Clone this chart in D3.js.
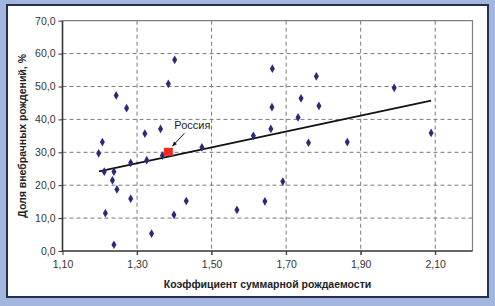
<!DOCTYPE html>
<html><head><meta charset="utf-8">
<script src="https://cdn.jsdelivr.net/npm/d3@7"></script>
<style>
html,body{margin:0;padding:0;background:#a2b6df;}
svg{display:block;font-family:"Liberation Sans",Arial,sans-serif;}
</style></head>
<body><svg id="c" width="495" height="306"></svg>
<script>
// Data: total fertility rate (x) vs share of extramarital births, % (y)
const tfr = [1.197,1.207,1.212,1.215,1.234,1.238,1.238,1.244,1.246,1.272,1.283,1.283,1.321,1.326,1.339,1.363,1.368,1.384,1.399,1.401,1.432,1.474,1.568,1.612,1.643,1.659,1.662,1.663,1.691,1.732,1.740,1.760,1.781,1.788,1.864,1.990,2.089];
const extramarital = [29.7,33.1,24.1,11.5,21.5,24.1,1.9,47.3,18.7,43.4,26.8,15.9,35.7,27.6,5.3,37.1,29.0,50.8,11.0,58.1,15.2,31.5,12.5,35.0,15.1,37.1,43.7,55.4,21.1,40.6,46.4,32.9,53.1,44.1,33.1,49.6,35.9];
const russia = {name:"Россия", x:1.384, y:30.0};
const trendX = [1.198, 2.089];
const trendY = [24.2, 45.7];
const xTicks = [1.10,1.30,1.50,1.70,1.90,2.10];
const yTicks = [0,10,20,30,40,50,60,70];
const xTitle = "Коэффициент суммарной рождаемости";
const yTitle = "Доля внебрачных рождений, %";

const svg = d3.select("#c");
// panel
svg.append("rect").attr("x",7).attr("y",5).attr("width",481).attr("height",292)
  .attr("fill","#ffffff").attr("stroke","#26304d").attr("stroke-width",2);

const L=62.5,R=472.5,T=20.7,B=251;
const x = d3.scaleLinear().domain([1.1,2.2]).range([L,R]);
const y = d3.scaleLinear().domain([0,70]).range([B,T]);
const fmt = d => d3.format(".2f")(d).replace(".",",");
const fmtY = d => d3.format(".1f")(d).replace(".",",");

const g = svg.append("g");
// grid
g.selectAll("line.vg").data(xTicks.slice(1)).join("line")
  .attr("x1",d=>x(d)).attr("x2",d=>x(d)).attr("y1",T).attr("y2",B+4)
  .attr("stroke","#7a7a7a").attr("stroke-width",1).attr("stroke-dasharray","4,3");
g.selectAll("line.hg").data(yTicks.slice(1,-1)).join("line")
  .attr("x1",L).attr("x2",R).attr("y1",d=>y(d)).attr("y2",d=>y(d))
  .attr("stroke","#7a7a7a").attr("stroke-width",1).attr("stroke-dasharray","4,3");
// border top/right
g.append("path").attr("d",`M${L},${T}H${R}V${B}`).attr("fill","none").attr("stroke","#808080").attr("stroke-width",1.2);

// axes
const xa = d3.axisBottom(x).tickValues(xTicks).tickFormat(fmt).tickSize(4).tickPadding(6);
const ya = d3.axisLeft(y).tickValues(yTicks).tickFormat(fmtY).tickSize(4).tickPadding(3);
const gx = svg.append("g").attr("transform",`translate(0,${B})`).call(xa);
const gy = svg.append("g").attr("transform",`translate(${L},0)`).call(ya);
[gx,gy].forEach(a=>{
  a.select(".domain").attr("stroke","#333").attr("stroke-width",1.6);
  a.selectAll(".tick line").attr("stroke","#333");
  a.selectAll("text").attr("fill","#333").style("font-size","10.5px").style("font-family","'Liberation Sans',Arial,sans-serif");
});
gx.select(".domain").attr("d",`M${L},0H${R}`);
gy.select(".domain").attr("d",`M0,${T}V${B}`);

// trend line
svg.append("line").attr("x1",x(trendX[0])).attr("y1",y(trendY[0])).attr("x2",x(trendX[1])).attr("y2",y(trendY[1]))
  .attr("stroke","#111").attr("stroke-width",1.6);

// points
const pts = tfr.map((v,i)=>({x:v,y:extramarital[i]}));
svg.selectAll("path.pt").data(pts).join("path")
  .attr("transform",d=>`translate(${x(d.x)},${y(d.y)})`)
  .attr("d",d3.symbol(d3.symbolDiamond,22))
  .attr("fill","#2a2a7c");

// Russia
svg.append("rect").attr("x",x(russia.x)-4.5).attr("y",y(russia.y)-4.5).attr("width",9).attr("height",8)
  .attr("fill","#ee2a1c");
// arrow
const ax1 = x(russia.x)+16, ay1 = y(russia.y)-19, ax2 = x(russia.x)+4, ay2 = y(russia.y)-6;
svg.append("line").attr("x1",ax1).attr("y1",ay1).attr("x2",ax2).attr("y2",ay2).attr("stroke","#111").attr("stroke-width",1);
const ang = Math.atan2(ay2-ay1, ax2-ax1);
const ah = 5;
svg.append("path").attr("d",`M${ax2},${ay2}L${ax2-ah*Math.cos(ang-0.4)},${ay2-ah*Math.sin(ang-0.4)}L${ax2-ah*Math.cos(ang+0.4)},${ay2-ah*Math.sin(ang+0.4)}Z`).attr("fill","#111");
svg.append("text").attr("x",x(russia.x)+24).attr("y",y(russia.y)-23).attr("text-anchor","middle")
  .attr("fill","#222").style("font-size","11px").text(russia.name);

// titles
svg.append("text").attr("x",(L+R)/2).attr("y",288).attr("text-anchor","middle")
  .attr("fill","#222").style("font-size","10.5px").style("font-weight","bold").text(xTitle);
svg.append("text").attr("transform",`translate(26,${(T+B)/2}) rotate(-90)`).attr("text-anchor","middle")
  .attr("fill","#222").style("font-size","10.5px").style("font-weight","bold").text(yTitle);
</script></body></html>
